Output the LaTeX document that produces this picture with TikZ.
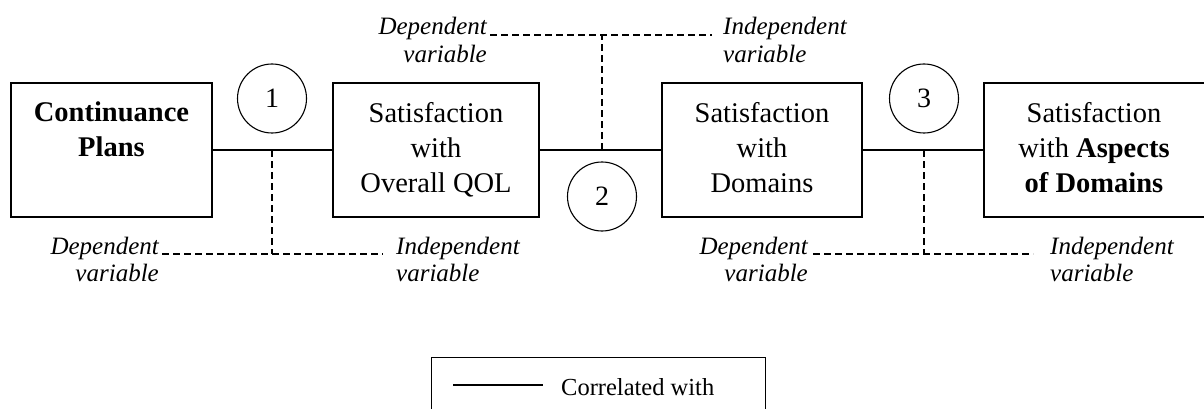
\documentclass[tikz,border=0pt]{standalone}
\usepackage{fontspec}
\setmainfont{Liberation Serif}
\begin{document}
\begin{tikzpicture}[x=1pt,y=-1pt,
  box/.style={draw,line width=1.3pt,inner sep=0pt},
  boxtext/.style={align=center,inner sep=0pt,font=\fontsize{28.5}{35}\selectfont},
  numcirc/.style={draw,circle,line width=1.1pt,minimum size=69pt,inner sep=0pt,font=\fontsize{28}{30}\selectfont},
  link/.style={line width=1.3pt},
  dep/.style={line width=1.2pt,dash pattern=on 7pt off 4pt},
  deplabel/.style={inner sep=0pt,font=\fontsize{25}{27.5}\selectfont\itshape},
]
\useasboundingbox (0,0) rectangle (1204,409);
% boxes
\node[box,minimum width=201pt,minimum height=134pt] (b1) at (111.5,150) {};
\node[box,minimum width=206pt,minimum height=134pt] (b2) at (436,150) {};
\node[box,minimum width=200pt,minimum height=134pt] (b3) at (762,150) {};
\node[box,minimum width=226pt,minimum height=134pt] (b4) at (1097,150) {};
% box texts (base anchor = baseline of last line)
\node[boxtext,anchor=base] (t1) at (111.5,157) {\textbf{Continuance}\\\textbf{Plans}};
\node[boxtext,anchor=base] (t2) at (436,192) {Satisfaction\\with\\Overall QOL};
\node[boxtext,anchor=base] (t3) at (762,192) {Satisfaction\\with\\Domains};
\node[boxtext,anchor=base] (t4) at (1094,192) {Satisfaction\\with \textbf{Aspects}\\\textbf{of Domains}};
% connectors
\draw[link] (b1.east) -- (b2.west);
\draw[link] (b2.east) -- (b3.west);
\draw[link] (b3.east) -- (b4.west);
% circles
\node[numcirc] (c1) at (272,98.5) {1};
\node[numcirc] (c2) at (602,196.5) {2};
\node[numcirc] (c3) at (924,98.5) {3};
% junction coordinates
\coordinate (j1) at (272,150);
\coordinate (j2) at (602,150);
\coordinate (j3) at (924,150);
\coordinate (k1) at (272,254);
\coordinate (k2) at (602,35);
\coordinate (k3) at (924,254);
\coordinate (l1a) at (162,254);
\coordinate (l1b) at (383,254);
\coordinate (l2a) at (490,35);
\coordinate (l2b) at (712,35);
\coordinate (l3a) at (813,254);
\coordinate (l3b) at (1033,254);
% dashed
\draw[dep] (j1) -- (k1);
\draw[dep] (l1a) -- (l1b);
\draw[dep] (j2) -- (k2);
\draw[dep] (l2a) -- (l2b);
\draw[dep] (j3) -- (k3);
\draw[dep] (l3a) -- (l3b);
% labels (base anchor = baseline of second line)
\node[deplabel,align=right,anchor=base east] (d1) at (159,281.5) {Dependent\\variable};
\node[deplabel,align=left,anchor=base west] (i1) at (396,281.5) {Independent\\variable};
\node[deplabel,align=right,anchor=base east] (d2) at (487,62.5) {Dependent\\variable};
\node[deplabel,align=left,anchor=base west] (i2) at (723,62.5) {Independent\\variable};
\node[deplabel,align=right,anchor=base east] (d3) at (808,281.5) {Dependent\\variable};
\node[deplabel,align=left,anchor=base west] (i3) at (1050,281.5) {Independent\\variable};
% legend
\node[box,minimum width=334pt,minimum height=80pt,anchor=north west] (leg) at (431,357) {};
\coordinate (la) at (453,385);
\coordinate (lb) at (543,385);
\draw[link,line width=1.1pt] (la) -- (lb);
\node[anchor=west,inner sep=0pt,font=\fontsize{24.5}{28}\selectfont] (lt) at (561,387) {Correlated with};
\end{tikzpicture}
\end{document}
